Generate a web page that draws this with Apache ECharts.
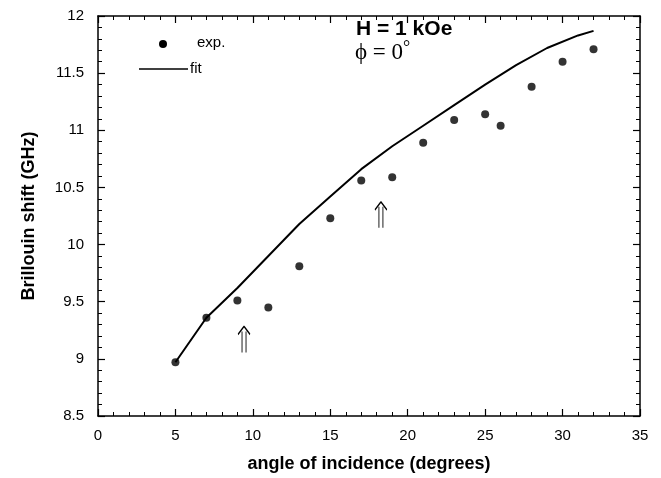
<!DOCTYPE html>
<html>
<head>
<meta charset="utf-8">
<script src="https://cdn.jsdelivr.net/npm/echarts@6/dist/echarts.min.js"></script>
<style>
  html, body { margin: 0; background: #fff; }
  #chart { width: 661px; height: 478px; }
</style>
</head>
<body>
<div id="chart"></div>
<script>
// measured points (degrees, GHz)
const expAngle = [5, 7, 9, 11, 13, 15, 17, 19, 21, 23, 25, 26, 28, 30, 32];
const expShift = [8.97, 9.36, 9.51, 9.45, 9.81, 10.23, 10.56, 10.59, 10.89, 11.09, 11.14, 11.04, 11.38, 11.60, 11.71];
// fitted curve
const fitAngle = [5, 7, 9, 11, 13, 15, 17, 19, 21, 23, 25, 27, 29, 31, 32];
const fitShift = [8.97, 9.36, 9.62, 9.90, 10.18, 10.42, 10.66, 10.86, 11.04, 11.22, 11.40, 11.57, 11.72, 11.83, 11.87];
// the two ⇑ markers
const arrowAt = [[9.43, 9.17], [18.27, 10.26]];

const FONT = 'Liberation Sans, Arial, sans-serif';
const arrowPath = 'path://M6 0 L0 8 M6 0 L12 8 M4 5 L4 26 M8 5 L8 26';

const frameAxis = (extra) => Object.assign({
  axisLine: { show: true, onZero: false, lineStyle: { color: '#000', width: 1.5 } },
  axisTick: { show: true, inside: true, length: 7, lineStyle: { color: '#000', width: 1.2 } },
  minorTick: { show: true, splitNumber: 5, length: 4, lineStyle: { color: '#000', width: 1 } },
  splitLine: { show: false },
}, extra);

const chart = echarts.init(document.getElementById('chart'));
chart.setOption({
  animation: false,
  backgroundColor: '#fff',
  grid: { left: 98, right: 21, top: 16, bottom: 60 },
  xAxis: [
    frameAxis({
      type: 'value', min: 0, max: 35, interval: 5, position: 'bottom',
      axisLabel: { color: '#000', fontFamily: FONT, fontSize: 15, margin: 12 },
      name: 'angle of incidence (degrees)', nameLocation: 'middle', nameGap: 39,
      nameTextStyle: { color: '#000', fontFamily: FONT, fontSize: 18, fontWeight: 'bold' },
    }),
    frameAxis({ type: 'value', min: 0, max: 35, interval: 5, position: 'top', axisLabel: { show: false } }),
  ],
  yAxis: [
    frameAxis({
      type: 'value', min: 8.5, max: 12, interval: 0.5, position: 'left',
      axisLabel: { color: '#000', fontFamily: FONT, fontSize: 15, margin: 14 },
      name: 'Brillouin shift (GHz)', nameLocation: 'middle', nameGap: 60,
      nameTextStyle: { color: '#000', fontFamily: FONT, fontSize: 18, fontWeight: 'bold' },
    }),
    frameAxis({ type: 'value', min: 8.5, max: 12, interval: 0.5, position: 'right', axisLabel: { show: false } }),
  ],
  series: [
    {
      name: 'fit',
      type: 'line',
      data: fitAngle.map((a, i) => [a, fitShift[i]]),
      smooth: false,
      symbol: 'none',
      lineStyle: { color: '#000', width: 2 },
    },
    {
      name: 'exp.',
      type: 'scatter',
      data: expAngle.map((a, i) => [a, expShift[i]]),
      symbol: 'circle',
      symbolSize: 8,
      itemStyle: { color: '#000' },
      markPoint: {
        symbol: arrowPath,
        symbolSize: [12, 26],
        itemStyle: { color: 'transparent', borderColor: '#000', borderWidth: 1.3 },
        label: { show: false },
        data: arrowAt.map((c) => ({ coord: c })),
      },
    },
  ],
  graphic: [
    // legend
    { type: 'circle', shape: { cx: 163, cy: 44, r: 4 }, style: { fill: '#000' } },
    { type: 'text', left: 197, top: 35, style: { text: 'exp.', font: '15px ' + FONT, fill: '#000' } },
    { type: 'line', shape: { x1: 139, y1: 69, x2: 188, y2: 69 }, style: { stroke: '#000', lineWidth: 1.5 } },
    { type: 'text', left: 190, top: 61, style: { text: 'fit', font: '15px ' + FONT, fill: '#000' } },
    // annotation
    { type: 'text', left: 356, top: 19, style: { text: 'H = 1 kOe', font: 'bold 21px ' + FONT, fill: '#000' } },
    {
      type: 'text', left: 355, top: 39,
      style: {
        text: '{a|ϕ = 0}{s|°}',
        rich: {
          a: { fontFamily: 'Liberation Serif, serif', fontSize: 23, fill: '#000' },
          s: { fontFamily: 'Liberation Serif, serif', fontSize: 18, fill: '#000', verticalAlign: 'top', padding: [0, 0, 10, 0] },
        },
      },
    },
  ],
});
</script>
</body>
</html>
